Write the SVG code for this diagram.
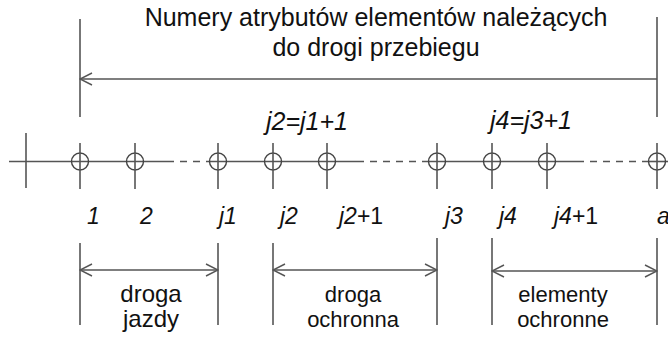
<svg xmlns="http://www.w3.org/2000/svg" width="668" height="337" viewBox="0 0 668 337">
<defs>
<style>
.ln{stroke:#555;stroke-width:1.6;fill:none}
.dash{stroke:#555;stroke-width:1.6;fill:none;stroke-dasharray:7 6}
.nd{stroke:#444;stroke-width:1.4;fill:none}
.t{font-family:"Liberation Sans",Arial,sans-serif;fill:#111}
.title{font-size:25px;text-anchor:middle}
.lab{font-size:23px;font-style:italic}
.eq{font-size:25px;font-style:italic}
.up{font-style:normal}
.cap{font-size:22px;text-anchor:middle}
.cap2{font-size:24px;text-anchor:middle}
</style>
<marker id="arr" viewBox="0 0 14 14" refX="13" refY="7" markerWidth="14" markerHeight="14" markerUnits="userSpaceOnUse" orient="auto-start-reverse">
<path d="M1,1 L13,7 L1,13" fill="none" stroke="#555" stroke-width="1.4"/>
</marker>
</defs>
<rect width="668" height="337" fill="#fff"/>
<g id="title">
<text class="t title" x="376" y="26">Numery atrybutów elementów należących</text>
<text class="t title" x="376" y="56">do drogi przebiegu</text>
</g>
<g id="connectors">
<line class="ln" x1="80" y1="19" x2="80" y2="117"/>
<line class="ln" x1="657" y1="17" x2="657" y2="117"/>
<line class="ln" x1="657" y1="79" x2="80" y2="79" marker-end="url(#arr)"/>
<line class="ln" x1="9" y1="161.5" x2="167" y2="161.5"/>
<line class="dash" x1="167" y1="161.5" x2="210" y2="161.5"/>
<line class="ln" x1="210" y1="161.5" x2="357" y2="161.5"/>
<line class="dash" x1="357" y1="161.5" x2="429" y2="161.5"/>
<line class="ln" x1="429" y1="161.5" x2="577" y2="161.5"/>
<line class="dash" x1="577" y1="161.5" x2="649" y2="161.5"/>
<line class="ln" x1="649" y1="161.5" x2="668" y2="161.5"/>
<line class="ln" x1="26" y1="133" x2="26" y2="188"/>
<line class="ln" x1="80" y1="243" x2="80" y2="325"/>
<line class="ln" x1="218" y1="243" x2="218" y2="325"/>
<line class="ln" x1="80" y1="270" x2="218" y2="270" marker-start="url(#arr)" marker-end="url(#arr)"/>
<line class="ln" x1="273" y1="243" x2="273" y2="325"/>
<line class="ln" x1="437" y1="238" x2="437" y2="325"/>
<line class="ln" x1="273" y1="270" x2="437" y2="270" marker-start="url(#arr)" marker-end="url(#arr)"/>
<line class="ln" x1="492" y1="238" x2="492" y2="325"/>
<line class="ln" x1="657" y1="238" x2="657" y2="325"/>
<line class="ln" x1="492" y1="271" x2="657" y2="271" marker-start="url(#arr)" marker-end="url(#arr)"/>
</g>
<g id="n1"><circle class="nd" cx="80" cy="161.5" r="8.5"/><line class="ln" x1="80" y1="143" x2="80" y2="189"/><text class="t lab" x="87" y="224">1</text></g>
<g id="n2"><circle class="nd" cx="135" cy="161.5" r="8.5"/><line class="ln" x1="135" y1="143" x2="135" y2="189"/><text class="t lab" x="140" y="224">2</text></g>
<g id="nj1"><circle class="nd" cx="218" cy="161.5" r="8.5"/><line class="ln" x1="218" y1="143" x2="218" y2="189"/><text class="t lab" x="219" y="224">j1</text></g>
<g id="nj2"><circle class="nd" cx="273" cy="161.5" r="8.5"/><line class="ln" x1="273" y1="143" x2="273" y2="189"/><text class="t lab" x="280" y="224">j2</text></g>
<g id="nj2p1"><circle class="nd" cx="327" cy="161.5" r="8.5"/><line class="ln" x1="327" y1="143" x2="327" y2="189"/><text class="t lab" x="339" y="224">j2<tspan class="up">+1</tspan></text></g>
<g id="nj3"><circle class="nd" cx="437" cy="161.5" r="8.5"/><line class="ln" x1="437" y1="143" x2="437" y2="189"/><text class="t lab" x="445" y="224">j3</text></g>
<g id="nj4"><circle class="nd" cx="492" cy="161.5" r="8.5"/><line class="ln" x1="492" y1="143" x2="492" y2="189"/><text class="t lab" x="499" y="224">j4</text></g>
<g id="nj4p1"><circle class="nd" cx="547" cy="161.5" r="8.5"/><line class="ln" x1="547" y1="143" x2="547" y2="189"/><text class="t lab" x="554" y="224">j4<tspan class="up">+1</tspan></text></g>
<g id="na"><circle class="nd" cx="657" cy="161.5" r="8.5"/><line class="ln" x1="657" y1="143" x2="657" y2="189"/><text class="t lab" x="657" y="224">a</text></g>
<g id="eq1"><text class="t eq" x="266" y="130">j2=j1+1</text></g>
<g id="eq2"><text class="t eq" x="490" y="129">j4=j3+1</text></g>
<g id="droga-jazdy"><text class="t cap2" x="151" y="302">droga</text><text class="t cap2" x="151" y="327">jazdy</text></g>
<g id="droga-ochronna"><text class="t cap" x="353" y="302">droga</text><text class="t cap" x="353" y="327">ochronna</text></g>
<g id="elementy-ochronne"><text class="t cap" x="563" y="302">elementy</text><text class="t cap" x="563" y="327">ochronne</text></g>
</svg>
